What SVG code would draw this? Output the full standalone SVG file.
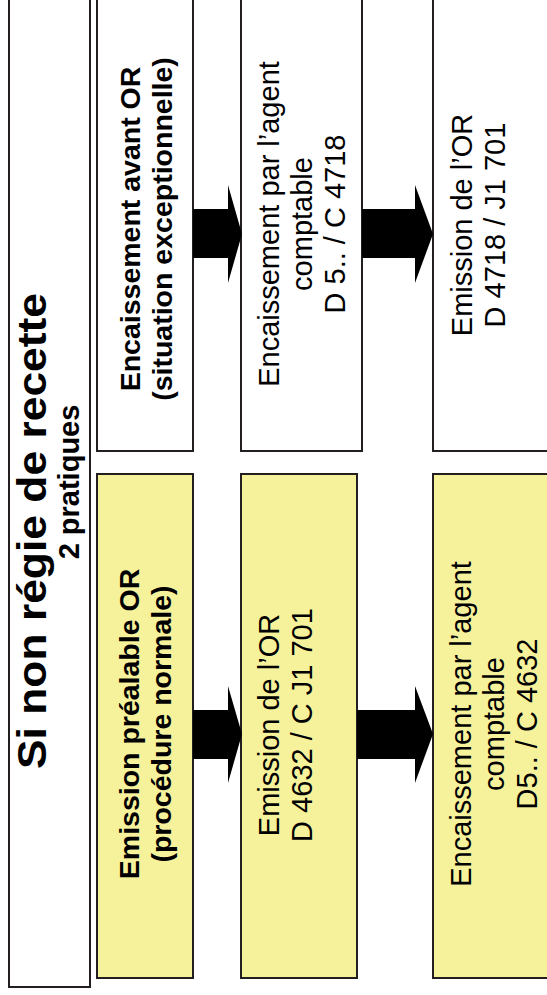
<svg xmlns="http://www.w3.org/2000/svg" width="547" height="995" viewBox="0 0 547 995">
<style>
.box{stroke:#231f20;stroke-width:2}
.w{fill:#ffffff}
.y{fill:#f6f29b}
.t{font-family:"Liberation Sans",Arial,sans-serif;fill:#000;text-anchor:middle}
.b{font-weight:bold}
.arrow{fill:#000}
</style>
<rect width="547" height="995" fill="#ffffff"/>
<g id="header">
<rect class="box w" x="9" y="-10" width="81" height="997"/>
<text class="t b" transform="translate(0,531) rotate(-90)"><tspan x="0" y="46" font-size="41" textLength="476" lengthAdjust="spacingAndGlyphs">Si non régie de recette</tspan><tspan x="49" y="79" font-size="29">2 pratiques</tspan></text>
</g>
<g id="n_top1">
<rect class="box w" x="97" y="-10" width="96" height="461"/>
<text class="t b" font-size="28.5" transform="translate(0,229) rotate(-90)"><tspan x="0" y="140">Encaissement avant OR</tspan><tspan x="0" y="172">(situation exceptionnelle)</tspan></text>
</g>
<g id="n_top2">
<rect class="box w" x="241" y="-10" width="121" height="461"/>
<text class="t" font-size="29" transform="translate(0,224) rotate(-90)"><tspan x="0" y="279">Encaissement par l’agent</tspan><tspan x="0" y="312">comptable</tspan><tspan x="0" y="345">D 5.. / C 4718</tspan></text>
</g>
<g id="n_top3">
<rect class="box w" x="433" y="-10" width="130" height="461"/>
<text class="t" font-size="29" transform="translate(0,225) rotate(-90)"><tspan x="0" y="472">Emission de l’OR</tspan><tspan x="0" y="505">D 4718 / J1 701</tspan></text>
</g>
<g id="n_bot1">
<rect class="box y" x="97" y="474" width="96" height="504"/>
<text class="t b" font-size="28.5" transform="translate(0,724) rotate(-90)"><tspan x="0" y="139">Emission préalable OR</tspan><tspan x="0" y="171">(procédure normale)</tspan></text>
</g>
<g id="n_bot2">
<rect class="box y" x="241" y="474" width="116" height="504"/>
<text class="t" font-size="29" transform="translate(0,725) rotate(-90)"><tspan x="0" y="279">Emission de l’OR</tspan><tspan x="0" y="312">D 4632 / C J1 701</tspan></text>
</g>
<g id="n_bot3">
<rect class="box y" x="433" y="474" width="130" height="504"/>
<text class="t" font-size="29" transform="translate(0,724) rotate(-90)"><tspan x="0" y="471">Encaissement par l’agent</tspan><tspan x="0" y="504">comptable</tspan><tspan x="0" y="537">D5.. / C 4632</tspan></text>
</g>
<g id="connectors">
<polygon class="arrow" points="193,209 228,209 228,185 242,234 228,283 228,258 193,258"/>
<polygon class="arrow" points="362,209 415,209 415,185 433,234 415,283 415,258 362,258"/>
<polygon class="arrow" points="193,710 228,710 228,686 242,734 228,783 228,759 193,759"/>
<polygon class="arrow" points="357,710 415,710 415,686 433,734 415,783 415,759 357,759"/>
</g>
</svg>
